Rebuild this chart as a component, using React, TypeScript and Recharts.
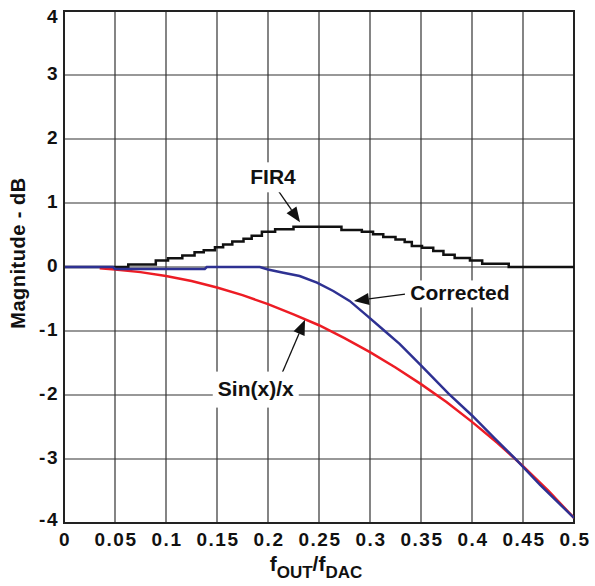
import React from 'react';
import {
    LineChart, Line, XAxis, YAxis, CartesianGrid, ReferenceLine, ReferenceDot, ReferenceArea
} from 'recharts';

// frequency axis (fOUT/fDAC) and tick labels
const X_TICKS = [0, 0.05, 0.1, 0.15, 0.2, 0.25, 0.3, 0.35, 0.4, 0.45, 0.5];
const X_TICK_LABELS = ['0', '0.05', '0.1', '0.15', '0.2', '0.25', '0.3', '0.35', '0.4', '0.45', '0.5'];
const Y_TICKS = [-4, -3, -2, -1, 0, 1, 2, 3, 4];

// FIR4 compensation filter (staircase)
const FIR4_F = [0, 0.063, 0.09, 0.102, 0.116, 0.128, 0.137, 0.148, 0.156, 0.165, 0.176, 0.184, 0.194, 0.207, 0.225,
    0.272, 0.292, 0.303, 0.313, 0.325, 0.334, 0.341, 0.351, 0.362, 0.372, 0.383, 0.398, 0.41, 0.436, 0.5];
const FIR4_DB = [0, 0.04, 0.1, 0.135, 0.18, 0.23, 0.26, 0.31, 0.35, 0.4, 0.44, 0.49, 0.55, 0.59, 0.63,
    0.58, 0.55, 0.51, 0.47, 0.43, 0.39, 0.33, 0.3, 0.25, 0.19, 0.14, 0.1, 0.05, 0, 0];

// Sin(x)/x roll-off
const SINC_F = [0.035, 0.05, 0.075, 0.1, 0.125, 0.15, 0.175, 0.2, 0.225, 0.25, 0.275, 0.3, 0.325, 0.35, 0.375,
    0.4, 0.425, 0.45, 0.475, 0.5];
const SINC_DB = [-0.02, -0.04, -0.08, -0.14, -0.22, -0.32, -0.44, -0.58, -0.74, -0.91, -1.11, -1.33, -1.57, -1.83,
    -2.11, -2.42, -2.75, -3.11, -3.5, -3.92];

// corrected response
const CORR_F = [0, 0.048, 0.05, 0.138, 0.14, 0.192, 0.2, 0.215, 0.231, 0.248, 0.264, 0.28, 0.297, 0.313, 0.329,
    0.349, 0.377, 0.4, 0.4225, 0.444, 0.467, 0.5];
const CORR_DB = [0, 0, -0.03, -0.03, 0, 0, -0.04, -0.09, -0.14, -0.245, -0.375, -0.53, -0.76, -0.98, -1.2,
    -1.52, -1.98, -2.32, -2.68, -3.02, -3.41, -3.92];

const toPoints = (f: number[], db: number[]) => f.map((x, i) => ({ f: x, v: db[i] }));
const fir4Data = toPoints(FIR4_F, FIR4_DB);
const sincData = toPoints(SINC_F, SINC_DB);
const corrData = toPoints(CORR_F, CORR_DB);

const FONT = '"Liberation Sans", Arial, Helvetica, sans-serif';

const XTick = (props: any) => {
    const { x, y, payload } = props;
    const idx = X_TICKS.indexOf(payload.value);
    return (
        <text x={x + 1} y={y} dy="0.71em" textAnchor="middle" fontFamily={FONT} fontWeight="bold"
            fontSize={19} letterSpacing={1.5} fill="#111">
            {idx >= 0 ? X_TICK_LABELS[idx] : payload.value}
        </text>
    );
};

const YTick = (props: any) => {
    const { x, y, payload } = props;
    const v = payload.value;
    const shift = v === 4 ? 5 : v === -4 ? -4 : -2;
    return (
        <text x={x + 2} y={y + shift} dy="0.355em" textAnchor="end" fontFamily={FONT} fontWeight="bold"
            fontSize={19} letterSpacing={1.5} fill="#111">
            {v}
        </text>
    );
};

const XTitle = (props: any) => {
    const { viewBox } = props;
    const cx = viewBox.x + viewBox.width / 2 - 3;
    return (
        <text x={cx} y={571} textAnchor="middle" fontFamily={FONT} fontWeight="bold" fontSize={21} fill="#111">
            <tspan>f</tspan>
            <tspan fontSize={17} dy={7}>OUT</tspan>
            <tspan dy={-7}>/f</tspan>
            <tspan fontSize={17} dy={7}>DAC</tspan>
        </text>
    );
};

const YTitle = () => (
    <text x={0} y={0} transform="translate(25, 253) rotate(-90)" textAnchor="middle" fontFamily={FONT}
        fontWeight="bold" fontSize={20} letterSpacing={0.5} fill="#111">
        Magnitude - dB
    </text>
);

const Arrow = (props: any) => {
    const { x1, y1, x2, y2 } = props;
    const ang = Math.atan2(y2 - y1, x2 - x1);
    const len = 15;
    const half = 6;
    const bx = x2 - len * Math.cos(ang);
    const by = y2 - len * Math.sin(ang);
    const px = -Math.sin(ang) * half;
    const py = Math.cos(ang) * half;
    return (
        <g>
            <line x1={x1} y1={y1} x2={bx} y2={by} stroke="#111" strokeWidth={1.3} />
            <polygon points={`${x2},${y2} ${bx + px},${by + py} ${bx - px},${by - py}`} fill="#111" />
        </g>
    );
};

const makeLabel = (text: string, w: number, h: number) => (props: any) => {
    const { cx, cy } = props;
    return (
        <g>
            <rect x={cx - w / 2} y={cy - h / 2 + 1} width={w} height={h} fill="#fff" />
            <text x={cx} y={cy} dy="0.36em" textAnchor="middle" fontFamily={FONT} fontWeight="bold"
                fontSize={21} fill="#111">
                {text}
            </text>
        </g>
    );
};

export default function App() {
    return (
        <div style={{ position: 'absolute', left: 0, top: 0, width: 595, height: 586, background: '#fff' }}>
            <LineChart width={595} height={586} margin={{ top: 11, right: 21, left: 0, bottom: 0 }}>
                <CartesianGrid stroke="#333" strokeWidth={1.2} />
                <XAxis type="number" dataKey="f" domain={[0, 0.5]} ticks={X_TICKS} interval={0}
                    allowDataOverflow height={63} tickLine={false} tickSize={0} tickMargin={10}
                    axisLine={{ stroke: '#222', strokeWidth: 2 }} tick={<XTick />} label={{ content: XTitle }} />
                <YAxis type="number" domain={[-4, 4]} ticks={Y_TICKS} interval={0} allowDataOverflow width={64}
                    tickLine={false} tickSize={0} tickMargin={7} axisLine={{ stroke: '#222', strokeWidth: 2 }}
                    tick={<YTick />} label={{ content: YTitle }} />
                <ReferenceArea x1={0} x2={0.5} y1={-4} y2={4} fill="none" stroke="#222" strokeWidth={2} />

                <ReferenceDot x={0.2049} y={1.417} r={0} shape={makeLabel('FIR4', 58, 30)} />
                <ReferenceDot x={0.3882} y={-0.405} r={0} shape={makeLabel('Corrected', 110, 27)} />
                <ReferenceDot x={0.188} y={-1.9} r={0} shape={makeLabel('Sin(x)/x', 86, 36)} />

                <Line data={fir4Data} dataKey="v" type="stepAfter" stroke="#111" strokeWidth={2.5}
                    dot={false} isAnimationActive={false} />
                <Line data={sincData} dataKey="v" type="linear" stroke="#ed1c24" strokeWidth={2.5}
                    dot={false} isAnimationActive={false} />
                <Line data={corrData} dataKey="v" type="linear" stroke="#2e3192" strokeWidth={2.5}
                    dot={false} isAnimationActive={false} />

                <ReferenceLine segment={[{ x: 0.2078, y: 1.246 }, { x: 0.2314, y: 0.701 }]} shape={Arrow} />
                <ReferenceLine segment={[{ x: 0.3363, y: -0.4206 }, { x: 0.2843, y: -0.5296 }]} shape={Arrow} />
                <ReferenceLine segment={[{ x: 0.2127, y: -1.698 }, { x: 0.2363, y: -0.8255 }]} shape={Arrow} />
            </LineChart>
        </div>
    );
}
